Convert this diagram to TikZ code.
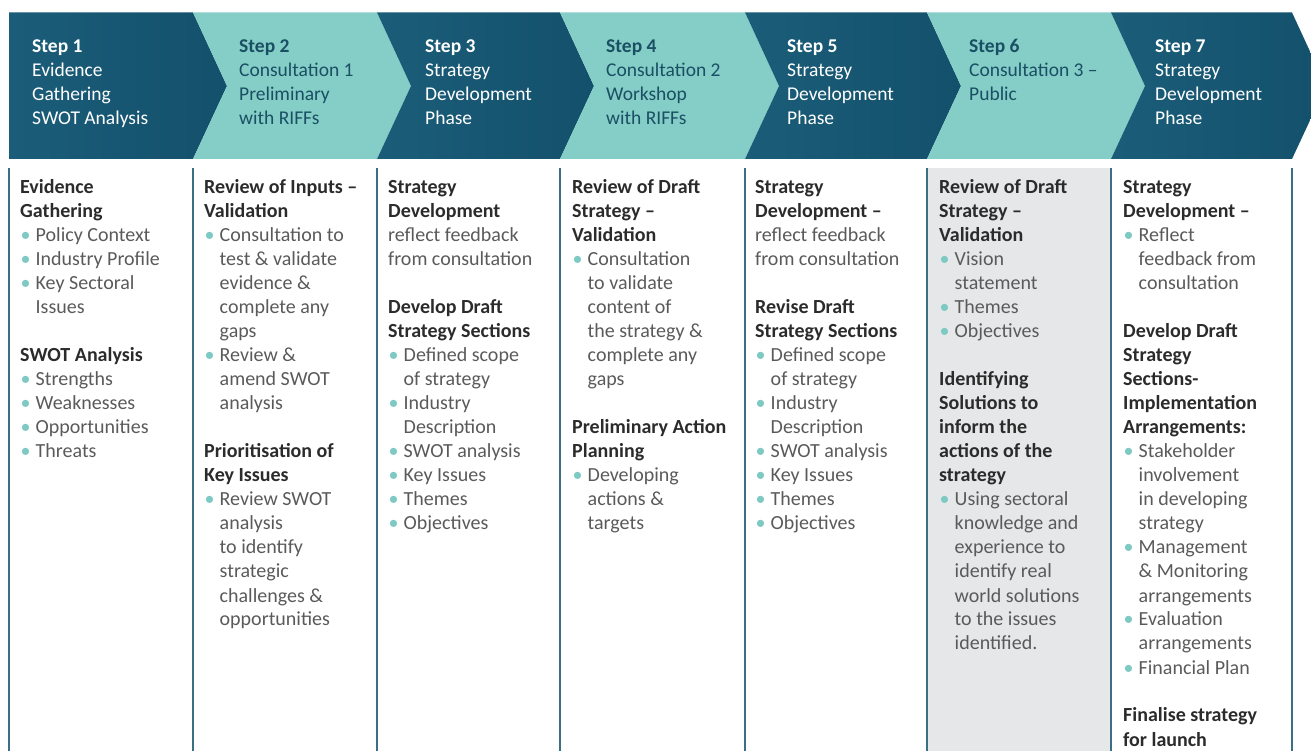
\documentclass[tikz,border=0pt]{standalone}
\usepackage{fontspec}
\setmainfont{Carlito}
\definecolor{darkteal}{HTML}{13506B}
\definecolor{darkteal2}{HTML}{1B5D79}
\definecolor{lightteal}{HTML}{84CEC7}
\definecolor{steptxt}{HTML}{1A4F64}
\definecolor{headc}{HTML}{2B2B2B}
\definecolor{bodyc}{HTML}{5A5A5A}
\definecolor{bulc}{HTML}{7CCAC3}
\definecolor{linec}{HTML}{3A6F84}
\definecolor{grayc}{HTML}{E6E7E9}
\newcommand{\hd}[1]{\leavevmode{\bfseries\color{headc}#1}}
\newcommand{\bu}{\leavevmode\makebox[15.5pt][l]{\hspace{0.5pt}\textcolor{bulc}{\textbullet}}}
\newcommand{\ind}{\leavevmode\hspace*{15.5pt}}
\newcommand{\colfmt}{\fontsize{20}{24}\selectfont\raggedright}
\newcommand{\banfmt}{\fontsize{19.5}{24}\selectfont\raggedright}
\begin{document}
\begin{tikzpicture}[x=1pt,y=-1pt,
  coltext/.style={anchor=base west,inner sep=0pt,text=bodyc},
  steptext/.style={anchor=base west,inner sep=0pt},
  darkchev/.style={left color=darkteal2,right color=darkteal},
  lightchev/.style={fill=lightteal},
  colline/.style={draw=linec,line width=1.3pt}]
\useasboundingbox (0,0) rectangle (1311,751);
\clip (0,0) rectangle (1311,751);
% banner chevrons
\shade[darkchev] (9,12.5) -- (193,12.5) -- (227,86) -- (193,159) -- (9,159) -- cycle;
\fill[lightchev] (193,12.5) -- (377,12.5) -- (411,86) -- (377,159) -- (193,159) -- (227,86) -- cycle;
\shade[darkchev] (377,12.5) -- (560,12.5) -- (594,86) -- (560,159) -- (377,159) -- (411,86) -- cycle;
\fill[lightchev] (560,12.5) -- (745,12.5) -- (779,86) -- (745,159) -- (560,159) -- (594,86) -- cycle;
\shade[darkchev] (745,12.5) -- (927,12.5) -- (961,86) -- (927,159) -- (745,159) -- (779,86) -- cycle;
\fill[lightchev] (927,12.5) -- (1111,12.5) -- (1145,86) -- (1111,159) -- (927,159) -- (961,86) -- cycle;
\shade[darkchev] (1111,12.5) -- (1292,12.5) -- (1326,86) -- (1292,159) -- (1111,159) -- (1145,86) -- cycle;
% column 6 background
\fill[grayc] (927,168) rectangle (1111,751);
% column lines
\foreach \xx in {9,193,377,560,745,927,1111,1292}
  \draw[colline] (\xx,168) -- (\xx,751);
% banner texts
\node[steptext,text=white] (s1) at (32,53) {\parbox[t]{150pt}{\banfmt\textbf{Step 1}\\Evidence\\Gathering\\SWOT Analysis}};
\node[steptext,text=steptxt] (s2) at (239,53) {\parbox[t]{150pt}{\banfmt\textbf{Step 2}\\Consultation 1\\Preliminary\\with RIFFs}};
\node[steptext,text=white] (s3) at (425,53) {\parbox[t]{150pt}{\banfmt\textbf{Step 3}\\Strategy\\Development\\Phase}};
\node[steptext,text=steptxt] (s4) at (606,53) {\parbox[t]{150pt}{\banfmt\textbf{Step 4}\\Consultation 2\\Workshop\\with RIFFs}};
\node[steptext,text=white] (s5) at (787,53) {\parbox[t]{150pt}{\banfmt\textbf{Step 5}\\Strategy\\Development\\Phase}};
\node[steptext,text=steptxt] (s6) at (969,53) {\parbox[t]{150pt}{\banfmt\textbf{Step 6}\\Consultation 3 –\\Public}};
\node[steptext,text=white] (s7) at (1155,53) {\parbox[t]{150pt}{\banfmt\textbf{Step 7}\\Strategy\\Development\\Phase}};
% column texts
\node[coltext] (c1) at (20,194) {\parbox[t]{172pt}{\colfmt
\hd{Evidence}\\
\hd{Gathering}\\
\bu Policy Context\\
\bu Industry Profile\\
\bu Key Sectoral\\
\ind Issues\\[24pt]
\hd{SWOT Analysis}\\
\bu Strengths\\
\bu Weaknesses\\
\bu Opportunities\\
\bu Threats}};
\node[coltext] (c2) at (204,194) {\parbox[t]{172pt}{\colfmt
\hd{Review of Inputs –}\\
\hd{Validation}\\
\bu Consultation to\\
\ind test \& validate\\
\ind evidence \&\\
\ind complete any\\
\ind gaps\\
\bu Review \&\\
\ind amend SWOT\\
\ind analysis\\[24pt]
\hd{Prioritisation of}\\
\hd{Key Issues}\\
\bu Review SWOT\\
\ind analysis\\
\ind to identify\\
\ind strategic\\
\ind challenges \&\\
\ind opportunities}};
\node[coltext] (c3) at (388,194) {\parbox[t]{172pt}{\colfmt
\hd{Strategy}\\
\hd{Development}\\
reflect feedback\\
from consultation\\[24pt]
\hd{Develop Draft}\\
\hd{Strategy Sections}\\
\bu Defined scope\\
\ind of strategy\\
\bu Industry\\
\ind Description\\
\bu SWOT analysis\\
\bu Key Issues\\
\bu Themes\\
\bu Objectives}};
\node[coltext] (c4) at (572,194) {\parbox[t]{172pt}{\colfmt
\hd{Review of Draft}\\
\hd{Strategy –}\\
\hd{Validation}\\
\bu Consultation\\
\ind to validate\\
\ind content of\\
\ind the strategy \&\\
\ind complete any\\
\ind gaps\\[24pt]
\hd{Preliminary Action}\\
\hd{Planning}\\
\bu Developing\\
\ind actions \&\\
\ind targets}};
\node[coltext] (c5) at (755,194) {\parbox[t]{172pt}{\colfmt
\hd{Strategy}\\
\hd{Development –}\\
reflect feedback\\
from consultation\\[24pt]
\hd{Revise Draft}\\
\hd{Strategy Sections}\\
\bu Defined scope\\
\ind of strategy\\
\bu Industry\\
\ind Description\\
\bu SWOT analysis\\
\bu Key Issues\\
\bu Themes\\
\bu Objectives}};
\node[coltext] (c6) at (939,194) {\parbox[t]{172pt}{\colfmt
\hd{Review of Draft}\\
\hd{Strategy –}\\
\hd{Validation}\\
\bu Vision\\
\ind statement\\
\bu Themes\\
\bu Objectives\\[24pt]
\hd{Identifying}\\
\hd{Solutions to}\\
\hd{inform the}\\
\hd{actions of the}\\
\hd{strategy}\\
\bu Using sectoral\\
\ind knowledge and\\
\ind experience to\\
\ind identify real\\
\ind world solutions\\
\ind to the issues\\
\ind identified.}};
\node[coltext] (c7) at (1123,194) {\parbox[t]{172pt}{\colfmt
\hd{Strategy}\\
\hd{Development –}\\
\bu Reflect\\
\ind feedback from\\
\ind consultation\\[24pt]
\hd{Develop Draft}\\
\hd{Strategy}\\
\hd{Sections-}\\
\hd{Implementation}\\
\hd{Arrangements:}\\
\bu Stakeholder\\
\ind involvement\\
\ind in developing\\
\ind strategy\\
\bu Management\\
\ind \& Monitoring\\
\ind arrangements\\
\bu Evaluation\\
\ind arrangements\\
\bu Financial Plan\\[24pt]
\hd{Finalise strategy}\\
\hd{for launch}}};
\end{tikzpicture}
\end{document}
